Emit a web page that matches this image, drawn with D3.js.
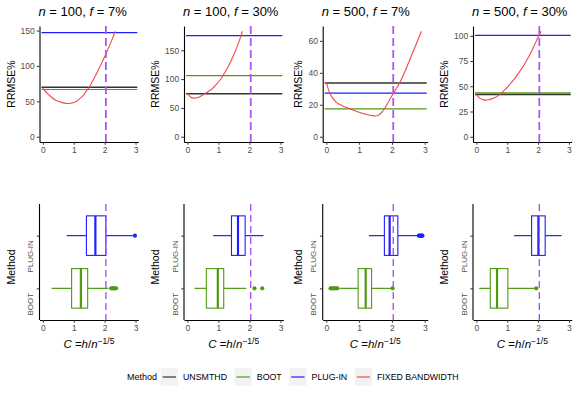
<!DOCTYPE html>
<meta charset="utf-8">
<script src="https://d3js.org/d3.v7.min.js"></script>
<style>
  body { margin: 0; background: #fff; }
  text { font-family: "Liberation Sans", Arial, sans-serif; }
</style>
<div id="chart"></div>
<script>
// panel titles
var nVals = [100, 100, 500, 500];
var fVals = ["7%", "30%", "7%", "30%"];

// flat RRMSE% reference lines
var unsmthd = [70, 74.5, 33.6, 42];
var boot    = [66.7, 105.9, 17.4, 43.6];
var plugin  = [147, 175.6, 27.3, 100.4];

// fixed bandwidth curves: C values and RRMSE%
var fixedC1 = [0, 0.1, 0.2, 0.3, 0.4, 0.5, 0.6, 0.7, 0.8, 0.9, 1.0, 1.1, 1.2, 1.3, 1.4, 1.5, 1.6, 1.7, 1.8, 1.9, 2.0, 2.1, 2.2, 2.3, 2.35];
var fixedR1 = [69, 63, 59, 55, 52, 50, 48.5, 47.5, 47, 47.3, 48.5, 50.5, 54, 58, 64, 70, 78, 86, 95, 104, 113, 123, 133, 144, 149];
var fixedC2 = [0, 0.1, 0.2, 0.3, 0.4, 0.5, 0.6, 0.7, 0.8, 0.9, 1.0, 1.1, 1.2, 1.3, 1.4, 1.5, 1.6, 1.7, 1.77];
var fixedR2 = [75, 69, 67, 67.5, 69.5, 72.5, 76, 79.5, 83, 89, 95, 102, 111, 120, 131, 143, 156, 171, 183];
var fixedC3 = [0, 0.1, 0.2, 0.3, 0.4, 0.5, 0.6, 0.7, 0.8, 0.9, 1.0, 1.1, 1.2, 1.3, 1.4, 1.5, 1.6, 1.7, 1.8, 1.9, 2.0, 2.1, 2.2, 2.3, 2.4, 2.5, 2.6, 2.7, 2.8, 2.9];
var fixedR3 = [34, 27.5, 24, 21.7, 20.3, 19.3, 18.4, 17.6, 16.8, 16, 15.3, 14.7, 14.1, 13.6, 13.2, 13, 13.6, 15.5, 18.5, 22, 25.6, 29, 32.3, 36.5, 41, 46, 51, 56, 61, 66];
var fixedC4 = [0, 0.1, 0.2, 0.3, 0.4, 0.5, 0.6, 0.7, 0.8, 0.9, 1.0, 1.1, 1.2, 1.3, 1.4, 1.5, 1.6, 1.7, 1.8, 1.9, 2.0, 2.1];
var fixedR4 = [42, 38.5, 36.8, 36.3, 36.6, 37.5, 38.8, 40.5, 43, 46, 49, 52.5, 56, 60, 64.5, 69, 74, 79.5, 85.5, 92, 98.5, 104.5];
var fixedC = [fixedC1, fixedC2, fixedC3, fixedC4];
var fixedR = [fixedR1, fixedR2, fixedR3, fixedR4];

// y ticks for top panels
var yTicks = [[0, 50, 100, 150], [0, 50, 100, 150], [0, 20, 40, 60], [0, 25, 50, 75, 100]];
var xTicks = [0, 1, 2, 3];

// reference C (dashed line)
var optC = 2.04;

// boxplot summaries [lower whisker, q1, median, q3, upper whisker] and outliers
var plugBox = [[0.77, 1.41, 1.70, 2.04, 2.91], [0.83, 1.42, 1.63, 1.86, 2.45], [1.30, 1.77, 1.93, 2.18, 2.78], [1.22, 1.79, 2.01, 2.23, 2.76]];
var plugOut = [[2.98], [], [2.82, 2.85, 2.88, 2.91, 2.93], []];
var bootBox = [[0.28, 0.93, 1.23, 1.45, 2.12], [0.23, 0.61, 0.98, 1.17, 1.90], [0.41, 0.97, 1.20, 1.38, 1.98], [0.09, 0.45, 0.67, 1.02, 1.90]];
var bootOut = [[2.21, 2.25, 2.29, 2.33, 2.37], [2.16, 2.41], [0.13, 0.17, 0.21, 0.25, 0.29, 0.34, 2.02], [1.94]];

var methods = ["UNSMTHD", "BOOT", "PLUG-IN", "FIXED BANDWIDTH"];
var colors = {"UNSMTHD": "#333333", "BOOT": "#4f9a10", "PLUG-IN": "#1f1fff", "FIXED BANDWIDTH": "#f24a4a"};

var W = 579, H = 397;
var lefts = [39.5, 184, 322.7, 473];
var rights = [138.3, 283.3, 427.7, 571.7];
var topY = [26, 142], botY = [204, 320];

var svg = d3.select("#chart").append("svg")
  .attr("width", W).attr("height", H);

function styleAxis(g) {
  g.select(".domain").attr("stroke", "#000").attr("stroke-width", 1.1);
  g.selectAll(".tick line").attr("stroke", "#333").attr("stroke-width", 1);
  g.selectAll(".tick text").attr("fill", "#4d4d4d").attr("font-size", 8.5)
    .style("font-family", "Liberation Sans, Arial, sans-serif");
}

for (var i = 0; i < 4; i++) {
  var x = d3.scaleLinear().domain([-0.11, 3.09]).range([lefts[i], rights[i]]);
  var maxR = d3.max([d3.max(fixedR[i]), plugin[i], boot[i], unsmthd[i]]);
  var y = d3.scaleLinear().domain([-0.05 * maxR, 1.05 * maxR]).range([topY[1], topY[0]]);

  // title
  var t = svg.append("text").attr("x", lefts[i] - 1).attr("y", 16).attr("font-size", 13);
  t.append("tspan").attr("font-style", "italic").text("n");
  t.append("tspan").text(" = " + nVals[i] + ", ");
  t.append("tspan").attr("font-style", "italic").text("f");
  t.append("tspan").text(" = " + fVals[i]);

  // flat lines
  [["UNSMTHD", unsmthd[i]], ["BOOT", boot[i]], ["PLUG-IN", plugin[i]]].forEach(function (d) {
    svg.append("line")
      .attr("x1", x(-0.11) + 2).attr("x2", x(3.09) - 1)
      .attr("y1", y(d[1])).attr("y2", y(d[1]))
      .attr("stroke", colors[d[0]]).attr("stroke-width", d[0] == "UNSMTHD" ? 1.6 : 1.2);
  });

  // fixed bandwidth curve
  var pts = fixedC[i].map(function (c, k) { return [c, fixedR[i][k]]; });
  svg.append("path")
    .datum(pts)
    .attr("fill", "none").attr("stroke", colors["FIXED BANDWIDTH"]).attr("stroke-width", 1.1)
    .attr("d", d3.line().curve(d3.curveMonotoneX).x(function (d) { return x(d[0]); }).y(function (d) { return y(d[1]); }));

  // dashed reference
  svg.append("line")
    .attr("x1", x(optC)).attr("x2", x(optC)).attr("y1", topY[0]).attr("y2", topY[1])
    .attr("stroke", "#b055f5").attr("stroke-width", 1.8).attr("stroke-dasharray", "8,4");

  var ya = svg.append("g").attr("transform", "translate(" + lefts[i] + ",0)")
    .call(d3.axisLeft(y).tickValues(yTicks[i]).tickFormat(d3.format("d")).tickSize(2.75).tickSizeOuter(0).tickPadding(2));
  styleAxis(ya);
  var xa = svg.append("g").attr("transform", "translate(0," + topY[1] + ")")
    .call(d3.axisBottom(x).tickValues(xTicks).tickFormat(d3.format("d")).tickSize(2.75).tickSizeOuter(0).tickPadding(2));
  styleAxis(xa);

  var minX = d3.min(ya.selectAll(".tick text").nodes(), function (n) { return n.getBBox().x; }) + lefts[i];
  var titleX = minX - 6;
  svg.append("text").attr("transform", "translate(" + titleX + "," + ((topY[0] + topY[1]) / 2) + ") rotate(-90)")
    .attr("text-anchor", "middle").attr("font-size", 10.5).text("RRMSE%");

  // ---- bottom boxplots ----
  var yb = d3.scalePoint().domain(["PLUG-IN", "BOOT"]).range(botY).padding(0.6);
  var bh = yb.step() * 0.75;

  [["PLUG-IN", plugBox[i], plugOut[i]], ["BOOT", bootBox[i], bootOut[i]]].forEach(function (b) {
    var col = colors[b[0]], s = b[1], cy = yb(b[0]);
    var g = svg.append("g");
    g.append("line").attr("x1", x(s[0])).attr("x2", x(s[1])).attr("y1", cy).attr("y2", cy)
      .attr("stroke", col).attr("stroke-width", 1.2);
    g.append("line").attr("x1", x(s[3])).attr("x2", x(s[4])).attr("y1", cy).attr("y2", cy)
      .attr("stroke", col).attr("stroke-width", 1.2);
    g.append("rect").attr("x", x(s[1])).attr("width", x(s[3]) - x(s[1]))
      .attr("y", cy - bh / 2).attr("height", bh)
      .attr("fill", "#fff").attr("stroke", col).attr("stroke-width", 1.1);
    g.append("line").attr("x1", x(s[2])).attr("x2", x(s[2])).attr("y1", cy - bh / 2).attr("y2", cy + bh / 2)
      .attr("stroke", col).attr("stroke-width", 2.2);
    g.selectAll("circle").data(b[2]).enter().append("circle")
      .attr("cx", function (d) { return x(d); }).attr("cy", cy).attr("r", 2.1).attr("fill", col);
  });

  svg.append("line")
    .attr("x1", x(optC)).attr("x2", x(optC)).attr("y1", botY[0]).attr("y2", botY[1])
    .attr("stroke", "#a64af0").attr("stroke-width", 1.3).attr("stroke-dasharray", "7,4");

  var yba = svg.append("g").attr("transform", "translate(" + lefts[i] + ",0)")
    .call(d3.axisLeft(yb).tickSize(2.75).tickSizeOuter(0).tickPadding(2));
  styleAxis(yba);
  yba.select(".domain").attr("d", "M0," + botY[0] + "V" + botY[1]);
  yba.selectAll(".tick text").attr("font-size", 8)
    .attr("transform", "rotate(-90)").attr("text-anchor", "end").attr("x", -4).attr("dy", 0)
    .attr("y", -6.5);

  var xba = svg.append("g").attr("transform", "translate(0," + botY[1] + ")")
    .call(d3.axisBottom(x).tickValues(xTicks).tickFormat(d3.format("d")).tickSize(2.75).tickSizeOuter(0).tickPadding(2));
  styleAxis(xba);

  svg.append("text").attr("transform", "translate(" + titleX + "," + ((botY[0] + botY[1]) / 2 + 5) + ") rotate(-90)")
    .attr("text-anchor", "middle").attr("font-size", 10.5).text("Method");

  var xt = svg.append("text").attr("x", (lefts[i] + rights[i]) / 2).attr("y", 348)
    .attr("text-anchor", "middle").attr("font-size", 11.5);
  xt.append("tspan").attr("font-style", "italic").text("C");
  xt.append("tspan").text(" =");
  xt.append("tspan").attr("font-style", "italic").text("h");
  xt.append("tspan").text("/");
  xt.append("tspan").attr("font-style", "italic").text("n");
  xt.append("tspan").attr("font-size", 8.5).attr("dy", -4.5).text("\u22121/5");
}

// legend
var ly = 377, keyW = 17.3;
var leg = svg.append("g");
leg.append("text").attr("x", 157).attr("y", ly + 3.3).attr("text-anchor", "end")
  .attr("font-size", 9).text("Method");
var lx = 160.7;
methods.forEach(function (m) {
  leg.append("rect").attr("x", lx).attr("y", ly - keyW / 2).attr("width", keyW).attr("height", keyW)
    .attr("fill", "#f2f2f2");
  leg.append("line").attr("x1", lx + 2).attr("x2", lx + keyW - 2).attr("y1", ly).attr("y2", ly)
    .attr("stroke", colors[m]).attr("stroke-width", 1.2);
  var tx = leg.append("text").attr("x", lx + keyW + 5).attr("y", ly + 3.2)
    .attr("font-size", 8.8).attr("fill", "#000").text(m);
  lx += keyW + 5 + tx.node().getComputedTextLength() + 7.5;
});
</script>
